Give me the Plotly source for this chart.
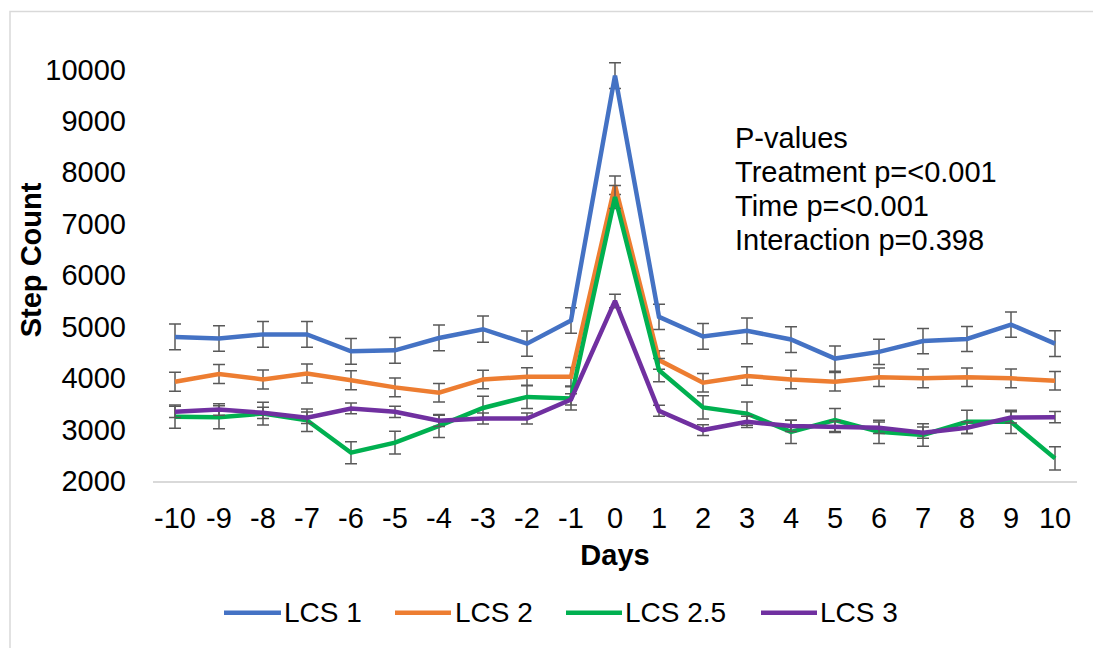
import plotly.graph_objects as go

days = list(range(-10, 11))
day_labels = [str(d) for d in days]
y_ticks = [2000, 3000, 4000, 5000, 6000, 7000, 8000, 9000, 10000]
y_labels = [str(v) for v in y_ticks]

lcs1 = [4800, 4770, 4850, 4850, 4520, 4540, 4780, 4950, 4670, 5120, 9880,
        5190, 4810, 4920, 4750, 4380, 4510, 4720, 4760, 5040, 4670]
lcs1_err = [250, 250, 250, 250, 250, 250, 250, 255, 245, 250, 250,
            245, 250, 250, 250, 245, 245, 245, 245, 245, 250]

lcs2 = [3930, 4080, 3975, 4090, 3960, 3820, 3715, 3975, 4025, 4025, 7750,
        4350, 3910, 4040, 3975, 3930, 4015, 3995, 4015, 3995, 3950]
lcs2_err = [185, 185, 185, 185, 185, 180, 180, 180, 175, 180, 180,
            180, 180, 180, 180, 180, 180, 180, 180, 180, 180]

lcs25 = [3250, 3240, 3310, 3180, 2550, 2745, 3070, 3420, 3635, 3605, 7520,
         4155, 3430, 3310, 2955, 3185, 2955, 2895, 3150, 3150, 2440]
lcs25_err = [225, 225, 220, 220, 215, 220, 225, 225, 225, 225, 225,
             225, 225, 225, 225, 225, 225, 220, 225, 225, 225]

lcs3 = [3345, 3390, 3325, 3230, 3410, 3345, 3170, 3215, 3215, 3585, 5500,
        3365, 2990, 3150, 3070, 3055, 3035, 2940, 3035, 3235, 3240]
lcs3_err = [110, 110, 110, 110, 105, 110, 110, 105, 105, 110, 130,
            105, 105, 110, 110, 110, 110, 110, 110, 110, 110]

series = [
    ("LCS 1", lcs1, lcs1_err, "#4472C4"),
    ("LCS 2", lcs2, lcs2_err, "#ED7D31"),
    ("LCS 2.5", lcs25, lcs25_err, "#00B050"),
    ("LCS 3", lcs3, lcs3_err, "#7030A0"),
]

FONT = "Liberation Sans, Arial, sans-serif"
FS = 29

plot_top, plot_bot, plot_left, plot_w = 53.5, 481, 153, 924
plot_h = plot_bot - plot_top


def px(x):
    return (x - plot_left) / plot_w


def py(y):
    return (plot_bot - y) / plot_h


fig = go.Figure()
for name, vals, errs, color in series:
    fig.add_trace(go.Scatter(
        x=days, y=vals, name=name, mode="lines",
        line=dict(color=color, width=4.5),
        error_y=dict(type="data", array=errs, visible=True,
                     color="#595959", thickness=1.5, width=6),
        cliponaxis=False, showlegend=False,
    ))

annotations = []
# P-values text block
pvals = ["P-values", "Treatment p=<0.001", "Time p=<0.001", "Interaction p=0.398"]
line_y = [138, 172, 206, 240]
for txt, yy in zip(pvals, line_y):
    annotations.append(dict(
        text=txt, xref="paper", yref="paper", x=px(733), y=py(yy),
        xanchor="left", yanchor="middle", showarrow=False,
        font=dict(family=FONT, size=FS, color="#000000"),
    ))

# Y axis title
annotations.append(dict(
    text="<b>Step Count</b>", xref="paper", yref="paper", x=px(31), y=py(260),
    xanchor="center", yanchor="middle", textangle=-90, showarrow=False,
    font=dict(family=FONT, size=FS, color="#000000"),
))

# Custom legend (line samples + labels)
legend_line_x = [(224, 281), (395, 451), (566, 622), (761, 817)]
legend_text_x = [282, 453, 623, 818]
legend_y = 613
shapes = [dict(
    type="rect", xref="paper", yref="paper",
    x0=px(10), x1=1.2, y0=-0.6, y1=py(11),
    line=dict(color="#D9D9D9", width=1.5), fillcolor="rgba(0,0,0,0)",
    layer="below",
)]
for (name, _, _, color), (x0, x1), tx in zip(series, legend_line_x, legend_text_x):
    shapes.append(dict(
        type="line", xref="paper", yref="paper",
        x0=px(x0), x1=px(x1), y0=py(legend_y), y1=py(legend_y),
        line=dict(color=color, width=4.5),
    ))
    annotations.append(dict(
        text=name, xref="paper", yref="paper", x=px(tx), y=py(legend_y),
        xanchor="left", yanchor="middle", showarrow=False,
        font=dict(family=FONT, size=28, color="#000000"),
    ))

fig.update_layout(
    width=1093, height=648,
    margin=dict(l=153, r=16, t=53.5, b=167),
    paper_bgcolor="white", plot_bgcolor="white",
    font=dict(family=FONT, size=FS, color="#000000"),
    xaxis=dict(
        range=[-10.5, 10.5], tickvals=days, ticktext=day_labels,
        showgrid=False, zeroline=False, showline=True,
        linecolor="#D9D9D9", linewidth=1.5, ticks="",
        ticklabelstandoff=10,
        tickfont=dict(size=FS),
        title=dict(text="<b>Days</b>", font=dict(size=FS), standoff=12),
    ),
    yaxis=dict(
        range=[2000, 10300], tickvals=y_ticks, ticktext=y_labels,
        showgrid=False, zeroline=False, showline=False, ticks="",
        ticklabelstandoff=26,
        tickfont=dict(size=FS),
    ),
    showlegend=False,
    annotations=annotations,
    shapes=shapes,
)

fig.write_html("out.html")
